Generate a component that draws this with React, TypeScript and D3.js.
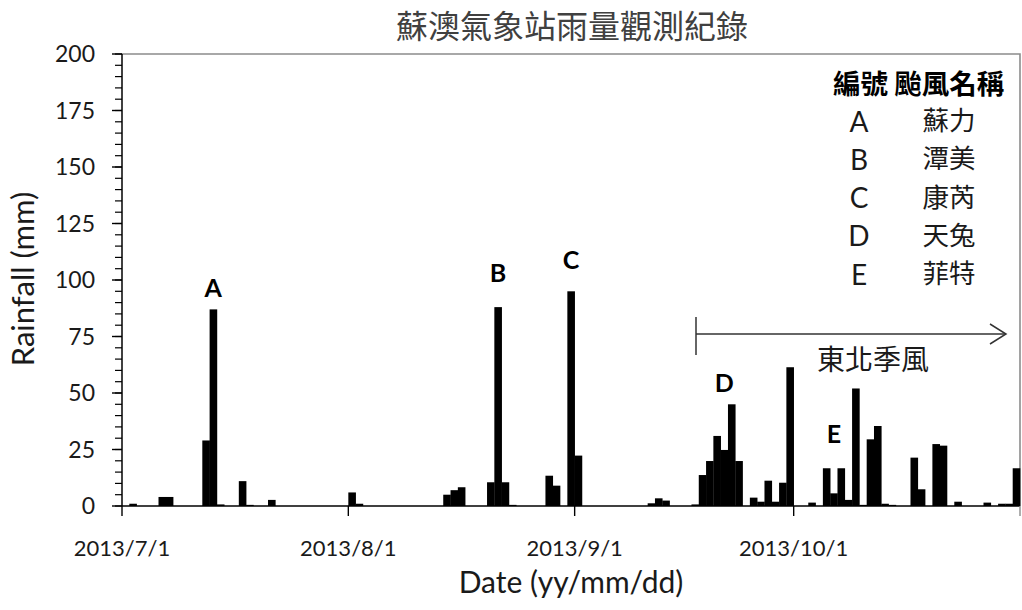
import React from "react";
import * as d3 from "d3";

// ---- Data (daily rainfall, mm; days not listed had no rain) ----
const rainDates = [
  "2013-07-02", "2013-07-06", "2013-07-07", "2013-07-12", "2013-07-13", "2013-07-14",
  "2013-07-17", "2013-07-18", "2013-07-21", "2013-08-01", "2013-08-02", "2013-08-14",
  "2013-08-15", "2013-08-16", "2013-08-20", "2013-08-21", "2013-08-22", "2013-08-23",
  "2013-08-28", "2013-08-29", "2013-08-31", "2013-09-01", "2013-09-11", "2013-09-12",
  "2013-09-13", "2013-09-17", "2013-09-18", "2013-09-19", "2013-09-20", "2013-09-21",
  "2013-09-22", "2013-09-23", "2013-09-25", "2013-09-26", "2013-09-27", "2013-09-28",
  "2013-09-29", "2013-09-30", "2013-10-03", "2013-10-05", "2013-10-06", "2013-10-07",
  "2013-10-08", "2013-10-09", "2013-10-10", "2013-10-11", "2013-10-12", "2013-10-13",
  "2013-10-14", "2013-10-17", "2013-10-18", "2013-10-20", "2013-10-21", "2013-10-23",
  "2013-10-27", "2013-10-29", "2013-10-30", "2013-10-31",
];
const rainValues = [
  1, 4, 4, 29, 87, 0.7,
  11, 0.5, 2.7, 6, 1, 5,
  7, 8.3, 10.5, 88, 10.5, 0.5,
  13.4, 9, 95, 22.3, 1.2, 3.4,
  2.4, 0.7, 13.7, 19.9, 31, 24.8,
  45, 19.9, 3.7, 1.9, 11.2, 1.9,
  10.3, 61.4, 1.5, 16.7, 5.6, 16.7,
  2.7, 52, 0.5, 29.5, 35.4, 1,
  0.5, 21.4, 7.4, 27.4, 26.7, 1.9,
  1.5, 1, 1, 16.7,
];

const yTicks = [0, 25, 50, 75, 100, 125, 150, 175, 200];
const typhoonCodes = ["A", "B", "C", "D", "E"];
const typhoonNames = ["蘇力", "潭美", "康芮", "天兔", "菲特"];
// annotation anchor: date (x) and label baseline height in mm (y)
const annotationDates = ["2013-07-13", "2013-08-21", "2013-08-31", "2013-09-21", "2013-10-06"];
const annotationLevels = [92.5, 99, 105, 50.4, 27.9];

const TITLE = "蘇澳氣象站雨量觀測紀錄";
const Y_TITLE = "Rainfall (mm)";
const X_TITLE = "Date (yy/mm/dd)";
const MONSOON = "東北季風";
const LEGEND_HEADER = "編號 颱風名稱";

const W = 1022;
const H = 610;
const LATIN = "Lato, 'Open Sans', sans-serif";
const CJK = "'Noto Sans CJK TC', 'Noto Sans CJK SC', sans-serif";

export default function App() {
  const parse = d3.utcParse("%Y-%m-%d");
  const start = new Date(Date.UTC(2013, 6, 1));
  const end = new Date(Date.UTC(2013, 10, 1));
  const left = 122, right = 1020, top = 54, bottom = 506;

  const x = d3.scaleUtc().domain([start, end]).range([left, right]);
  const y = d3.scaleLinear().domain([0, 200]).range([bottom, top]);

  const bars = rainDates.map((s, i) => {
    const d = parse(s) as Date;
    const x0 = x(d);
    const x1 = x(d3.utcDay.offset(d, 1));
    return { x0, x1, v: rainValues[i] };
  });

  const monthTicks = x.ticks(d3.utcMonth.every(1) as any);
  const fmt = d3.utcFormat("%Y/%-m/%-d");
  const minor = d3.range(0, 201, 5);

  return (
    <svg
      width={W}
      height={H}
      style={{ position: "absolute", left: 0, top: 0, background: "#fff" }}
    >
      <rect x={0} y={0} width={W} height={H} fill="#fff" />
      {/* title */}
      <text x={572} y={38} textAnchor="middle" fontFamily={CJK} fontSize={32} fill="#404040">
        {TITLE}
      </text>

      {/* frame (top & right) */}
      <path d={`M${left},${top}H${right}V${bottom}`} fill="none" stroke="#8c8c8c" strokeWidth={1.6} />

      {/* bars */}
      {bars.map((b, i) => (
        <rect
          key={i}
          x={b.x0}
          y={y(b.v)}
          width={b.x1 - b.x0 + 0.3}
          height={bottom - y(b.v)}
          fill="#000"
        />
      ))}

      {/* y axis */}
      <line x1={left} x2={left} y1={top} y2={bottom} stroke="#000" strokeWidth={1.5} />
      {minor.map((v) => (
        <line key={"m" + v} x1={left - 7} x2={left} y1={y(v)} y2={y(v)} stroke="#000" strokeWidth={1.2} />
      ))}
      {yTicks.map((v) => (
        <g key={"y" + v}>
          <line x1={left - 10} x2={left} y1={y(v)} y2={y(v)} stroke="#000" strokeWidth={1.4} />
          <text
            x={95}
            y={y(v)}
            dy="0.36em"
            textAnchor="end"
            fontFamily={LATIN}
            fontSize={23}
            fill="#1a1a1a"
          >
            {v}
          </text>
        </g>
      ))}

      {/* x axis */}
      <line x1={left} x2={right} y1={bottom} y2={bottom} stroke="#000" strokeWidth={1.5} />
      {monthTicks.map((t, i) => (
        <g key={"x" + i}>
          <line x1={x(t)} x2={x(t)} y1={bottom} y2={bottom + 10} stroke={i === monthTicks.length - 1 ? "#8c8c8c" : "#000"} strokeWidth={1.4} />
          {t < end && (
            <text x={x(t)} y={556} textAnchor="middle" fontFamily={LATIN} fontSize={22} fill="#1a1a1a">
              {fmt(t)}
            </text>
          )}
        </g>
      ))}

      {/* axis titles */}
      <text x={571} y={593} textAnchor="middle" fontFamily={LATIN} fontSize={30} fill="#1a1a1a">
        {X_TITLE}
      </text>
      <text
        transform={`translate(34,279) rotate(-90)`}
        textAnchor="middle"
        fontFamily={LATIN}
        fontSize={31}
        fill="#1a1a1a"
      >
        {Y_TITLE}
      </text>

      {/* typhoon annotations */}
      {annotationDates.map((s, i) => {
        const d = parse(s) as Date;
        const cx = (x(d) + x(d3.utcDay.offset(d, 1))) / 2;
        return (
          <text
            key={"a" + i}
            x={cx}
            y={y(annotationLevels[i])}
            textAnchor="middle"
            fontFamily={LATIN}
            fontWeight="bold"
            fontSize={25}
            fill="#000"
          >
            {typhoonCodes[i]}
          </text>
        );
      })}

      {/* legend table */}
      <text x={833} y={94} fontFamily={CJK} fontWeight="bold" fontSize={27.5} fill="#000">
        {LEGEND_HEADER}
      </text>
      {typhoonCodes.map((c, i) => (
        <g key={"l" + c}>
          <text x={859} y={131.5 + i * 38.3} textAnchor="middle" fontFamily={LATIN} fontSize={28} fill="#1a1a1a">
            {c}
          </text>
          <text x={949} y={130 + i * 38.3} textAnchor="middle" fontFamily={CJK} fontSize={26.5} fill="#1a1a1a">
            {typhoonNames[i]}
          </text>
        </g>
      ))}

      {/* NE monsoon arrow */}
      <line x1={696} x2={696} y1={317} y2={355} stroke="#333" strokeWidth={1.5} />
      <line x1={696} x2={1005} y1={334} y2={334} stroke="#333" strokeWidth={1.5} />
      <path d="M990,324 L1006,334 L990,344" fill="none" stroke="#333" strokeWidth={1.5} />
      <text x={873} y={370} textAnchor="middle" fontFamily={CJK} fontSize={28} fill="#1a1a1a">
        {MONSOON}
      </text>
    </svg>
  );
}
